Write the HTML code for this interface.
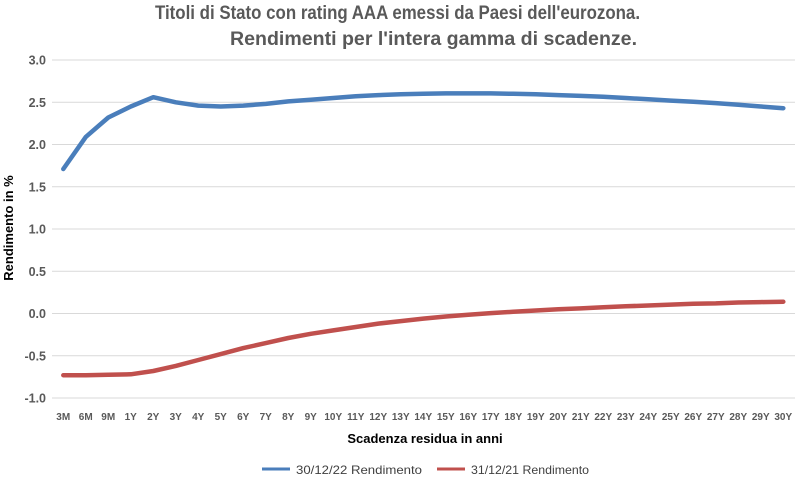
<!DOCTYPE html>
<html><head><meta charset="utf-8"><style>
body{margin:0;background:#fff;width:795px;height:480px;overflow:hidden}
svg text{font-family:"Liberation Sans",sans-serif}
</style></head><body>
<svg id="c" width="795" height="480" xmlns="http://www.w3.org/2000/svg">
<text x="155" y="19" font-size="19" font-weight="bold" fill="#595959" textLength="485" lengthAdjust="spacingAndGlyphs">Titoli di Stato con rating AAA emessi da Paesi dell'eurozona.</text>
<text x="230" y="45" font-size="19" font-weight="bold" fill="#595959" textLength="407" lengthAdjust="spacingAndGlyphs">Rendimenti per l'intera gamma di scadenze.</text>
<g id="grid"></g>
<text transform="translate(13,228) rotate(-90)" text-anchor="middle" font-size="13" font-weight="bold" fill="#000">Rendimento in %</text>
<text x="425" y="443" text-anchor="middle" font-size="13" font-weight="bold" fill="#000">Scadenza residua in anni</text>
<line x1="262" y1="469" x2="290" y2="469" stroke="#4a7ebb" stroke-width="3"/>
<text x="296" y="474" font-size="12" fill="#404040" textLength="126" lengthAdjust="spacingAndGlyphs">30/12/22 Rendimento</text>
<line x1="437" y1="469" x2="465" y2="469" stroke="#c0504d" stroke-width="3"/>
<text x="471" y="474" font-size="12" fill="#404040" textLength="118" lengthAdjust="spacingAndGlyphs">31/12/21 Rendimento</text>
<path id="red" fill="none" stroke="#c0504d" stroke-width="4.5" stroke-linejoin="round" stroke-linecap="round"/>
<path id="blue" fill="none" stroke="#4a7ebb" stroke-width="4.5" stroke-linejoin="round" stroke-linecap="round"/>
</svg>
<script>
var ns="http://www.w3.org/2000/svg",g=document.getElementById("grid");
function Y(v){return 313.5-v*84.5}
function X(i){return 63.25+i*22.5}
for(var k=0;k<=8;k++){var v=3-k*0.5,y=Y(v);
var l=document.createElementNS(ns,"line");l.setAttribute("x1",52);l.setAttribute("x2",795);l.setAttribute("y1",y);l.setAttribute("y2",y);l.setAttribute("stroke","#d9d9d9");l.setAttribute("stroke-width","1");g.appendChild(l);
var t=document.createElementNS(ns,"text");t.setAttribute("x",46);t.setAttribute("y",y+4.5);t.setAttribute("text-anchor","end");t.setAttribute("font-size","12.5");t.setAttribute("font-weight","bold");t.setAttribute("fill","#595959");t.textContent=v.toFixed(1);g.appendChild(t);}
var labs=["3M","6M","9M"];for(var i=1;i<=30;i++)labs.push(i+"Y");
labs.forEach(function(s,i){var t=document.createElementNS(ns,"text");t.setAttribute("x",X(i));t.setAttribute("y",420);t.setAttribute("text-anchor","middle");t.setAttribute("font-size","10");t.setAttribute("font-weight","bold");t.setAttribute("fill","#595959");t.textContent=s;g.appendChild(t);});
var b=[1.71,2.09,2.32,2.45,2.56,2.50,2.46,2.45,2.46,2.48,2.51,2.53,2.55,2.57,2.585,2.595,2.60,2.605,2.605,2.605,2.60,2.595,2.585,2.575,2.565,2.55,2.535,2.52,2.505,2.49,2.47,2.45,2.43];
var r=[-0.73,-0.73,-0.725,-0.72,-0.68,-0.62,-0.55,-0.48,-0.41,-0.35,-0.29,-0.24,-0.20,-0.16,-0.12,-0.09,-0.06,-0.035,-0.015,0.005,0.02,0.035,0.05,0.06,0.075,0.085,0.095,0.105,0.115,0.12,0.13,0.135,0.14];
function P(a){return a.map(function(v,i){return (i?"L":"M")+X(i).toFixed(1)+","+Y(v).toFixed(1)}).join("")}
document.getElementById("blue").setAttribute("d",P(b));
document.getElementById("red").setAttribute("d",P(r));
</script>
</body></html>
